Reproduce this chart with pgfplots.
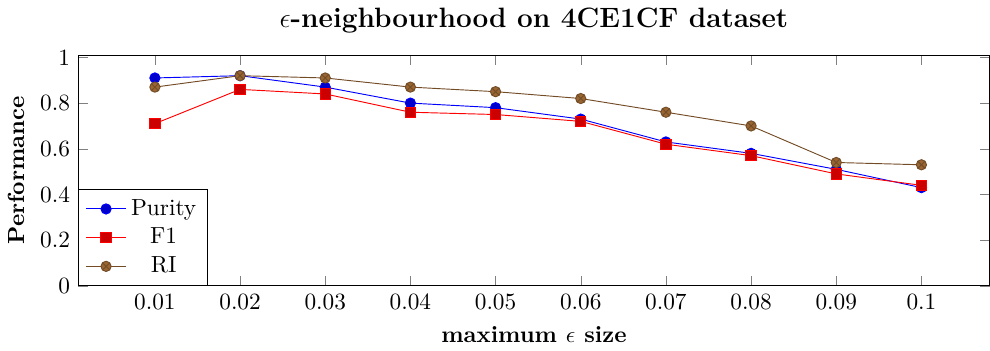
\documentclass[border=0pt]{standalone}
\usepackage{pgfplots}
\pgfplotsset{compat=1.18}
\begin{document}
\begin{tikzpicture}
\begin{axis}[
  scale only axis,
  width=391pt, height=99pt,
  xmin=0.001, xmax=0.108,
  ymin=0, ymax=1.01,
  xtick={0.01,0.02,0.03,0.04,0.05,0.06,0.07,0.08,0.09,0.1},
  xticklabels={0.01,0.02,0.03,0.04,0.05,0.06,0.07,0.08,0.09,0.1},
  ytick={0,0.2,0.4,0.6,0.8,1},
  yticklabels={0,0.2,0.4,0.6,0.8,1},
  title={\large\textbf{$\epsilon$-neighbourhood on 4CE1CF dataset}},
  xlabel={\textbf{maximum $\epsilon$ size}},
  ylabel={\textbf{Performance}},
  legend style={at={(0,0)}, anchor=south west},
  legend cell align=center,
  every axis plot/.append style={mark size=2.2pt},
]
\addplot coordinates {(0.01,0.91)(0.02,0.92)(0.03,0.87)(0.04,0.80)(0.05,0.78)(0.06,0.73)(0.07,0.63)(0.08,0.58)(0.09,0.51)(0.1,0.43)};
\addplot coordinates {(0.01,0.71)(0.02,0.86)(0.03,0.84)(0.04,0.76)(0.05,0.75)(0.06,0.72)(0.07,0.62)(0.08,0.57)(0.09,0.49)(0.1,0.44)};
\addplot coordinates {(0.01,0.87)(0.02,0.92)(0.03,0.91)(0.04,0.87)(0.05,0.85)(0.06,0.82)(0.07,0.76)(0.08,0.70)(0.09,0.54)(0.1,0.53)};
\legend{Purity,F1,RI}
\end{axis}
\end{tikzpicture}
\end{document}
